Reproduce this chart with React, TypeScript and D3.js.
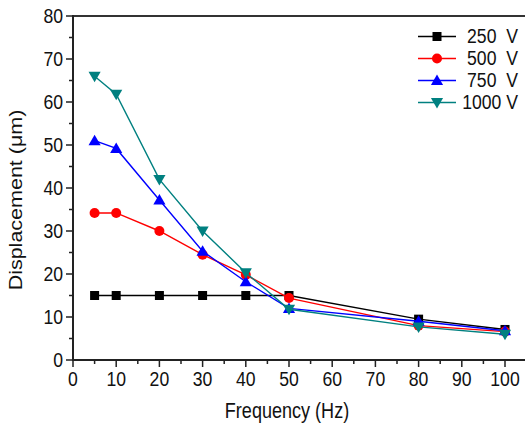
import React from "react";
import * as d3 from "d3";

const freqs = [5, 10, 20, 30, 40, 50, 80, 100];
const v250 = [15, 15, 15, 15, 15, 15, 9.5, 7.1];
const v500 = [34.2, 34.2, 30, 24.5, 19.8, 14.4, 8, 6.6];
const v750 = [51, 49.2, 37.2, 25.3, 18.2, 12, 9, 6.8];
const v1000 = [66, 61.8, 42, 30, 20.3, 11.8, 7.7, 6];
const seriesNames = ["250  V", "500  V", "750  V", "1000 V"];
const seriesColors = ["#000000", "#ff0000", "#0000ff", "#008080"];
const seriesShapes = ["square", "circle", "triangle", "triangleDown"];
const xTicks = [0, 10, 20, 30, 40, 50, 60, 70, 80, 90, 100];
const yTicks = [0, 10, 20, 30, 40, 50, 60, 70, 80];

const W = 525, H = 427;
const x = d3.scaleLinear().domain([0, 100]).range([73, 505]);
const y = d3.scaleLinear().domain([0, 80]).range([360, 16]);
const SX = 0.84;
const FS = 21;

function Marker({ shape, cx, cy, color }: any) {
  if (shape === "square") return <rect x={cx - 4.5} y={cy - 4.5} width={9} height={9} fill={color} />;
  if (shape === "circle") return <circle cx={cx} cy={cy} r={5} fill={color} />;
  const sym = d3.symbol().type(d3.symbolTriangle).size(64)();
  return <path d={sym || ""} fill={color} transform={`translate(${cx},${cy + (shape === "triangle" ? 1 : -1)}) rotate(${shape === "triangle" ? 0 : 180})`} />;
}

function T({ x: tx, y: ty, anchor, size, children }: any) {
  return (
    <text transform={`translate(${tx},${ty}) scale(${SX},1)`} fontSize={size || FS} textAnchor={anchor} fill="#111" style={{ whiteSpace: "pre" }}>
      {children}
    </text>
  );
}

export default function App() {
  const all = [v250, v500, v750, v1000];
  const line = d3.line<number>().x((_, i) => x(freqs[i])).y((d) => y(d));
  const minorX = d3.range(5, 106, 10);
  const minorY = d3.range(5, 80, 10);
  const font = "'Liberation Sans', Arial, sans-serif";
  return (
    <svg width={W} height={H} style={{ position: "absolute", left: 0, top: 0 }} fontFamily={font}>
      <rect width={W} height={H} fill="#fff" />
      <line x1={73} x2={W} y1={16} y2={16} stroke="#333" strokeWidth={2} />
      <line x1={73} x2={W} y1={360} y2={360} stroke="#222" strokeWidth={2} />
      <line x1={73} x2={73} y1={15} y2={361} stroke="#222" strokeWidth={2} />
      {yTicks.map((t) => (
        <g key={"y" + t}>
          <line x1={66} x2={73} y1={y(t)} y2={y(t)} stroke="#222" strokeWidth={1.5} />
          <T x={63} y={y(t) + 6.5} anchor="end">{t}</T>
        </g>
      ))}
      {minorY.map((t) => (
        <line key={"my" + t} x1={69} x2={73} y1={y(t)} y2={y(t)} stroke="#222" strokeWidth={1.5} />
      ))}
      {xTicks.map((t) => (
        <g key={"x" + t}>
          <line x1={x(t)} x2={x(t)} y1={360} y2={367} stroke="#222" strokeWidth={1.5} />
          <T x={x(t)} y={386} anchor="middle">{t}</T>
        </g>
      ))}
      {minorX.map((t) => (
        <line key={"mx" + t} x1={x(t)} x2={x(t)} y1={360} y2={364} stroke="#222" strokeWidth={1.5} />
      ))}
      <T x={287} y={418} anchor="middle" size={21.5}>Frequency (Hz)</T>
      <text transform={`translate(22,200) scale(${SX},1) rotate(-90)`} fontSize={21.5} textAnchor="middle" fill="#111">Displacement (μm)</text>
      {all.map((vals, si) => (
        <g key={"s" + si}>
          <path d={line(vals) || ""} fill="none" stroke={seriesColors[si]} strokeWidth={1.4} />
          {vals.map((v, i) => (
            <Marker key={i} shape={seriesShapes[si]} cx={x(freqs[i])} cy={y(v)} color={seriesColors[si]} />
          ))}
        </g>
      ))}
      {seriesNames.map((n, si) => {
        const ly = 36.5 + si * 22;
        return (
          <g key={"l" + si}>
            <line x1={418} x2={456} y1={ly} y2={ly} stroke={seriesColors[si]} strokeWidth={1.4} />
            <Marker shape={seriesShapes[si]} cx={437} cy={ly} color={seriesColors[si]} />
            <T x={518} y={ly + 6.8} anchor="end">{n}</T>
          </g>
        );
      })}
    </svg>
  );
}
